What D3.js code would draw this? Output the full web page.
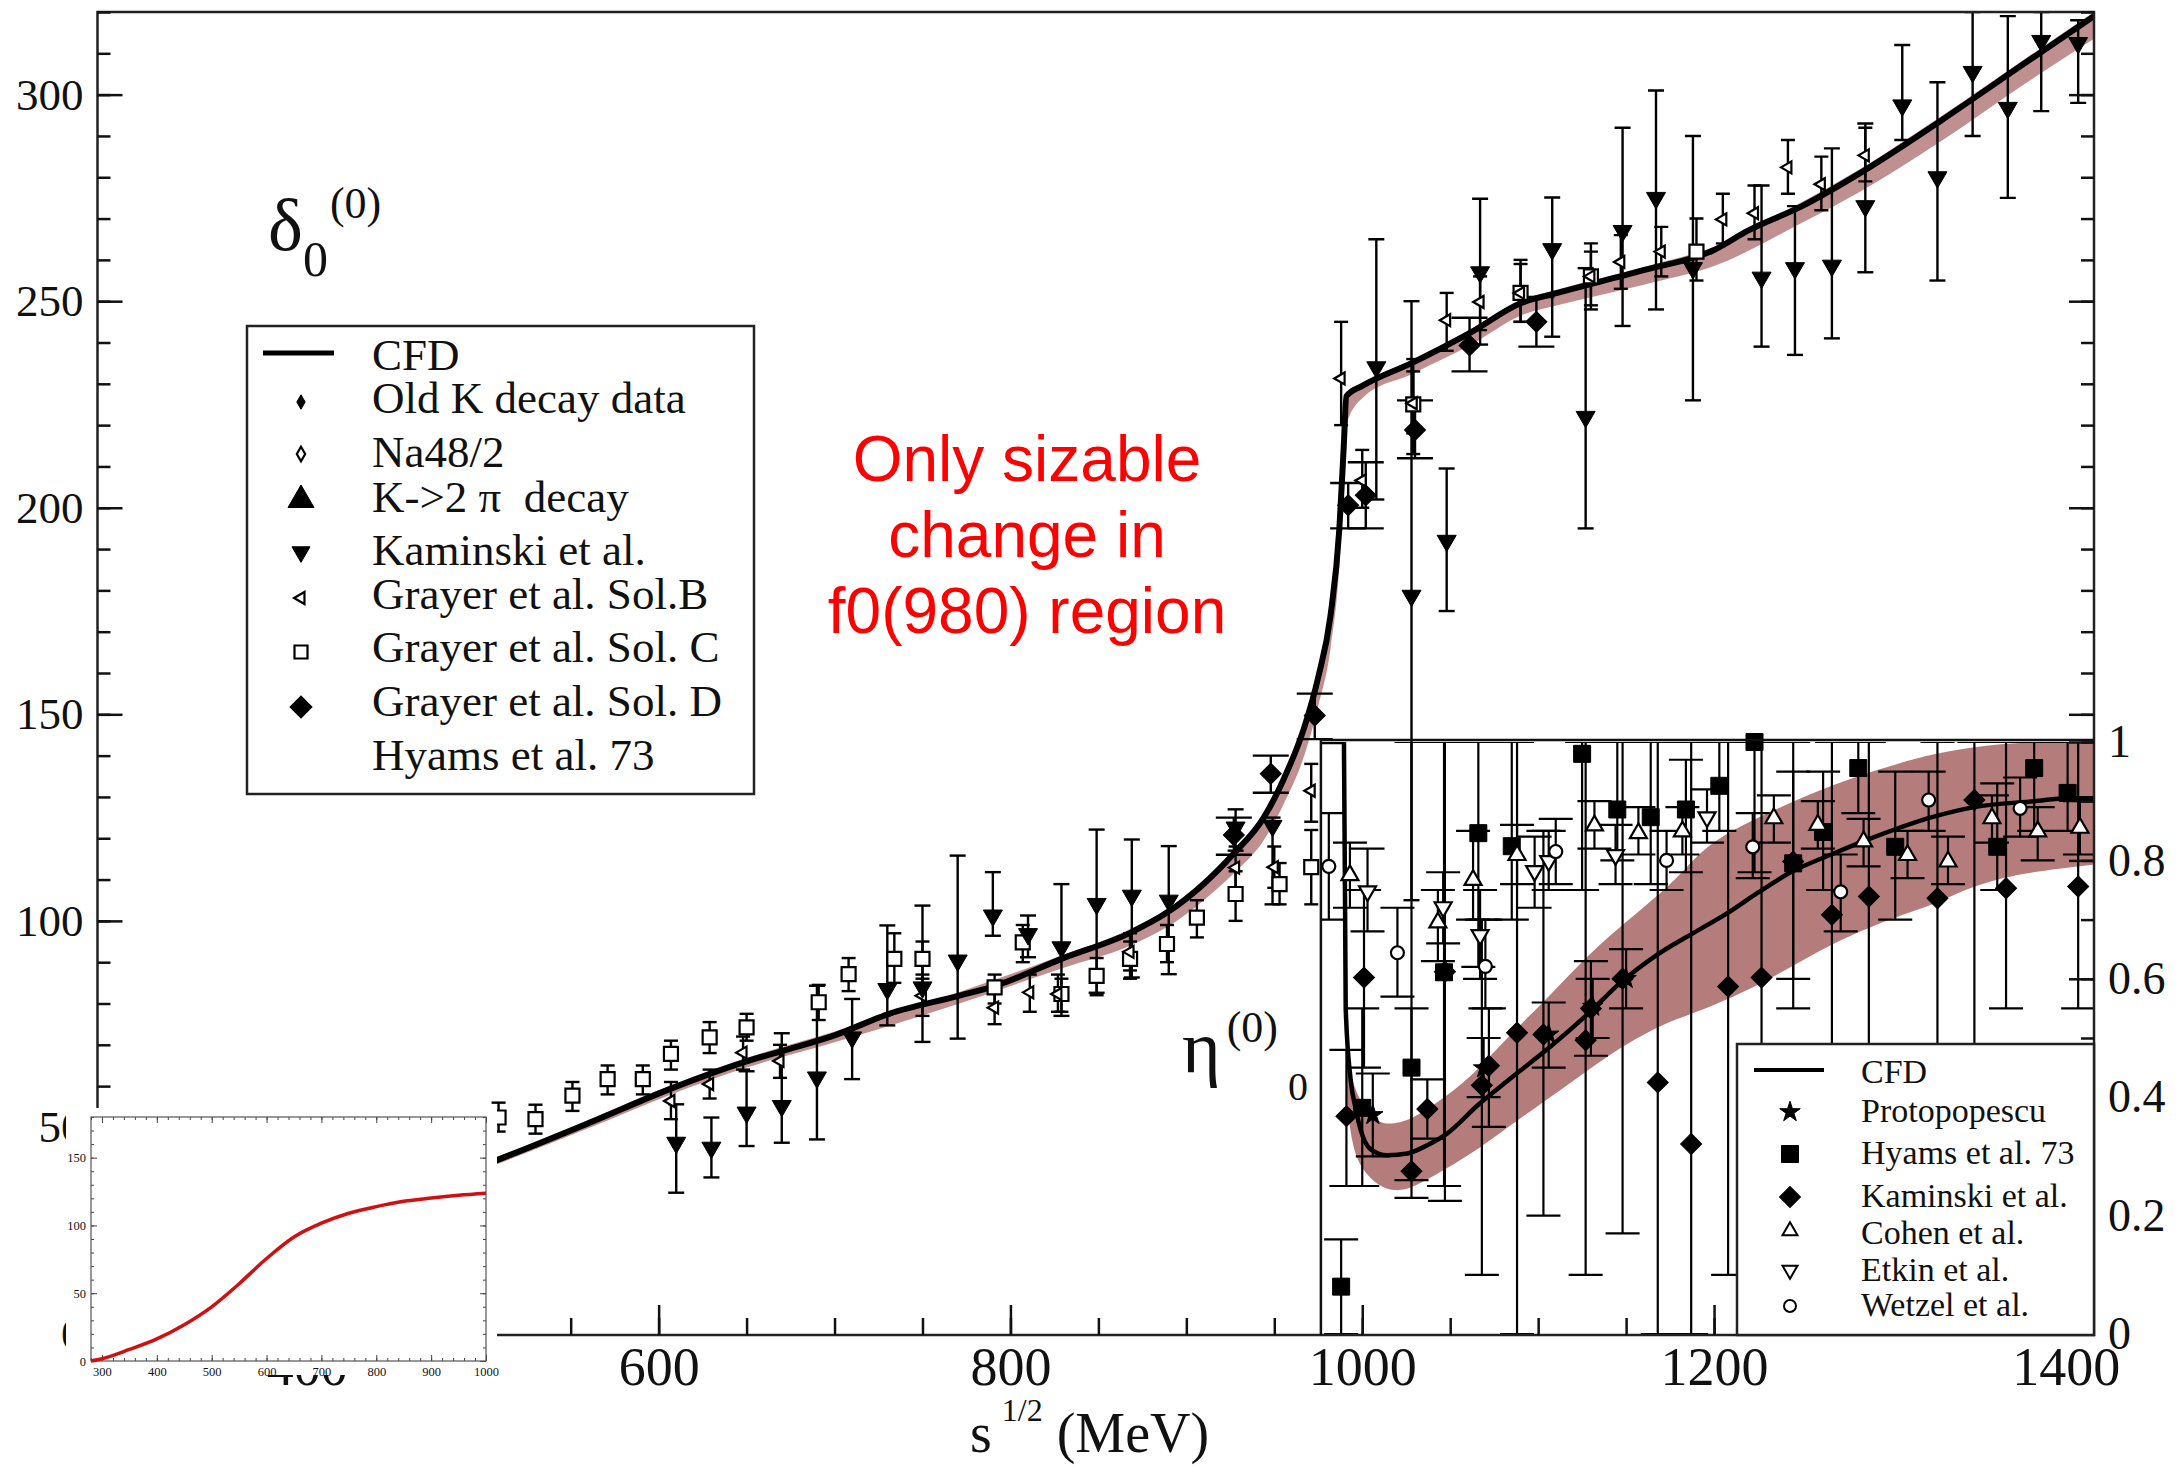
<!DOCTYPE html>
<meta charset="utf-8">
<html>
<head>
<script src="https://d3js.org/d3.v7.min.js"></script>
<style>
  body { margin: 0; background: #fff; }
  text { font-family: "Liberation Serif", "Times New Roman", serif; fill: #111; }
</style>
</head>
<body>
<div id="chart"></div>
<script>
// ---------- data (MeV, value, errLow, errHigh) ----------

// delta_0^(0) CFD curve and its band
const deltaCfd = [[480,37.6],[510,42.4],[560,51],[607,59.4],[650,66],[671,68.6],[700,72.3],[731,77.5],
  [771,81.9],[791,84.2],[829,90.8],[868,97.1],[889,102],[910,109],[927,116.3],[944,125],[955,134],
  [967,146.8],[975,159],[982,174],[987,195],[989.5,215],[991,227],[1000,229.5],[1029,235.2],[1062,242.5],
  [1090,249.5],[1111,252],[1160,257.5],[1200,262.4],[1219,267],[1250,273],[1283,281],[1330,294],
  [1378,308],[1416,319]];
const deltaBand = [[480,36.5,38.5],[510,41.4,43.2],[560,49.8,51.8],[607,58,60.2],[650,64.5,66.8],
  [700,70.6,73.2],[771,80,82.8],[829,88.5,91.6],[868,94,98],[889,98.5,102.8],[910,105,110],
  [927,111.5,117],[944,119.5,125.6],[955,128,134.6],[967,140,147.4],[975,152,159.6],[982,166,174.5],
  [987,186,195.6],[989.5,206,215.6],[991,220,227.6],[1000,226.5,230],[1029,232.5,236],[1062,239.5,243.2],
  [1090,246.5,250.2],[1111,249,252.8],[1160,254,258.3],[1200,258.5,263.2],[1250,269,274],
  [1283,276.5,282],[1330,289,295],[1378,303,309],[1416,313.5,320]];

const oldKDecay = [[286,2,0,4],[295,4,2.5,5.5],[310,6.5,5,8],[330,9,7,11],[350,11.5,9,14],[370,14,11.5,16.5],[390,17,14,20]];
const na48 = [[286,2.2,1.5,3],[295,3.6,3,4.3],[310,5,4.3,5.8],[330,7.2,6.4,8],[350,9.4,8.5,10.3],[370,11,10,12],[385,13.2,12,14.5]];
const k2piDecay = [[494,47,45,49]];

const kaminskiDelta = [[610,46.3,34.2,55.6],[630,45.1,37.9,52.4],[650,53.6,45.5,63.6],[670,55.2,46.3,72.8],
  [690,62.1,47.1,84.3],[710,71.8,61.7,81.1],[730,83.5,74.7,98.9],[750,83.9,70.7,103.7],
  [770,90.4,71.5,115.8],[790,101.3,96.4,111.8],[810,96.8,91.2,101.3],[829,93.6,77,108.9],
  [849,104.1,82.6,122.1],[869,106.1,86.3,119.7],[890,104.9,87.1,118.1],[928,122.6,117,127],
  [949,123,104,125],[1008,234,202,265],[1028,178.7,105,250],[1048,192,175,209.5],
  [1067,257,239.5,274.8],[1108,262.6,241.4,275.1],[1127,222,195,258],[1148,267,244,292],
  [1167,275,248,301],[1188,258,226,290],[1227,255.7,239,278],[1246,258,237,273],
  [1267,258.6,241,287],[1286,273,257,293],[1307,297.4,289,312],[1327,280,255,303],
  [1347,305.5,290,320],[1367,296.8,275,319],[1386,313,296,320],[1407,312.5,298,318]];

const grayerB = [[607,56.4,52,61],[629,60.5,57,64],[648,68.1,64,72],[669,66.1,62,70],[750,81.9,77,87],
  [791,79,75,83],[811,82.7,78,87],[827,82.3,78,87],[868,92.5,88,97],[928,112.9,108,118],[950,113,108,118],
  [971,131.5,124,138],[988,231.3,220,245],[1000,206.6,200,214],[1029,225.3,218,233],[1048,245.4,238,252],
  [1067,249.8,243,256],[1090,252,245,259],[1130,256,249,262],[1147,259.5,253,266],[1170,262,256,268],
  [1205,269.8,264,276],[1223,271.3,265,278],[1242,282.4,276,289],[1261,278.3,272,285],[1286,285.3,279,292]];

const grayerC = [[509,52.4,49,56],[530,52,48.5,55.5],[551,57.7,54,61],[571,61.7,58,65],[591,61.7,58,65],
  [607,67.8,64,71],[629,71.8,68,75.5],[650,74.2,71,77.5],[691,80.3,76,84.5],[708,87.1,83,91],
  [734,90.8,85,97],[750,90.8,86,95],[791,83.9,80,87],[807,94.8,90,99],[829,82.3,78,86],[849,86.7,82,91],
  [868,90.8,86,95],[889,94.4,90,99],[906,100.8,96,105],[928,106.5,100,112],[953,108.9,104,114],
  [971,113,104,122],[1029,225,213,236],[1090,252,245,260],[1130,256,248,264],[1190,262,255,270]];

const grayerD = [[927,120.8,116,125],[948,135.6,131,140],[973,149.7,144,155],[992,200.6,195,206],
  [1002,203,195,211],[1030,218.8,212,226],[1061,239.3,233,246],[1099,245,239,251]];

// eta_0^(0) CFD curve and its band
const etaCfd = [[976,1],[989.6,1],[990.6,0.55],[993.4,0.43],[996.3,0.38],[999.1,0.345],[1004.8,0.312],
  [1014.3,0.302],[1025.7,0.305],[1037,0.319],[1048.4,0.339],[1065.5,0.386],[1084.4,0.432],[1107.2,0.486],
  [1128,0.54],[1147,0.594],[1167.8,0.641],[1188.6,0.678],[1207.6,0.711],[1224.7,0.745],[1243.6,0.78],
  [1268.3,0.812],[1287.2,0.835],[1325,0.874],[1347.9,0.89],[1382,0.9],[1401,0.905],[1416,0.905]];
const etaBand = [[991,0.40,0.47],[994,0.32,0.43],[999,0.28,0.39],[1009,0.25,0.355],[1018,0.241,0.355],
  [1028,0.245,0.362],[1047,0.278,0.399],[1066,0.312,0.446],[1084,0.352,0.506],[1103,0.392,0.56],
  [1122,0.432,0.621],[1141,0.473,0.674],[1160,0.507,0.721],[1179,0.533,0.768],[1196,0.55,0.83],
  [1230,0.595,0.88],[1268,0.663,0.93],[1306,0.708,0.965],[1325,0.725,0.98],[1344,0.753,0.99],
  [1363,0.77,0.997],[1382,0.781,1.0],[1416,0.793,1.0]];

const protopopescu = [[1006,0.37,0.3,0.44],[1069,0.449,0.4,0.5],[1106,0.506,0.45,0.56],[1131,0.553,0.5,0.6],[1150,0.6,0.55,0.65]];
const hyamsEta = [[988,0.08,0.0,0.16],[1000,0.382,0.25,0.55],[1028,0.45,0.26,1.0],[1046.5,0.611,0.25,1.0],
  [1066,0.846,0.62,1.0],[1085,0.824,0.7,1.0],[1125,0.98,0.75,1.0],[1145,0.886,0.8,1.0],[1164,0.873,0.76,1.0],
  [1184,0.886,0.78,0.97],[1203,0.926,0.85,1.0],[1223,1.0,0.78,1.0],[1245,0.795,0.6,0.95],[1262,0.848,0.75,0.95],
  [1282,0.956,0.88,1.0],[1303,0.823,0.7,0.95],[1361,0.823,0.75,0.93],[1382,0.956,0.85,1.0],[1401,0.914,0.85,1.0]];
const kaminskiEta = [[991,0.368,0.25,0.48],[1001,0.602,0.45,0.75],[1028,0.275,0.23,0.55],[1037,0.38,0.33,0.43],
  [1047,0.612,0.225,1.0],[1068,0.42,0.1,0.7],[1072,0.453,0.35,0.55],[1088,0.509,0.0,1.0],[1103,0.506,0.2,0.85],
  [1127,0.496,0.1,1.0],[1130,0.55,0.47,0.63],[1148,0.6,0.17,1.0],[1168,0.425,0.0,1.0],[1187,0.321,0.0,1.0],
  [1208,0.587,0.1,1.0],[1227,0.602,0.3,1.0],[1245,0.798,0.55,1.0],[1267,0.708,0.2,1.0],[1288,0.739,0.45,1.0],
  [1327,0.736,0.3,1.0],[1348,0.902,0.22,1.0],[1366,0.753,0.55,1.0],[1407,0.756,0.55,1.0]];
const cohen = [[993,0.775,0.72,0.83],[1043,0.695,0.63,0.75],[1063,0.767,0.7,0.85],[1088,0.809,0.76,0.86],
  [1132,0.859,0.82,0.9],[1157,0.846,0.81,0.89],[1182,0.849,0.81,0.89],[1234,0.871,0.83,0.91],[1259,0.86,0.82,0.9],
  [1285,0.832,0.79,0.87],[1310,0.809,0.77,0.85],[1333,0.798,0.76,0.84],[1358,0.871,0.83,0.91],[1384,0.849,0.8,0.89],
  [1408,0.855,0.81,0.9]];
const etkin = [[1003,0.748,0.68,0.82],[1046,0.721,0.66,0.78],[1067,0.674,0.6,0.75],[1098,0.782,0.72,0.84],
  [1106,0.799,0.75,0.85],[1144,0.809,0.76,0.86],[1196,0.873,0.83,0.92]];
const wetzel = [[981,0.79,0.7,0.88],[1020,0.644,0.57,0.72],[1070,0.621,0.55,0.7],[1110,0.815,0.76,0.87],
  [1173,0.8,0.75,0.85],[1222,0.823,0.77,0.88],[1272,0.747,0.68,0.81],[1322,0.902,0.85,0.95],[1374,0.888,0.84,0.94]];

// small inset: red curve
const insetX = [280,300,350,400,450,500,550,600,650,700,750,800,850,900,950,1000];
const insetY = [0,1.7,8.5,16.3,26.8,40,57,75.6,91.5,101.7,109,113.9,117.8,120.2,122.2,123.7];

// tick labels
const xMajor = [400,600,800,1000,1200,1400];
const yMajor = [0,50,100,150,200,250,300];
const etaMajor = [0,0.2,0.4,0.6,0.8,1];
const insetXMajor = [300,400,500,600,700,800,900,1000];
const insetYMajor = [0,50,100,150];

// ---------- drawing ----------
const W = 2177, H = 1467;
const L = 97.5, R = 2094, T = 12, B = 1335;

const svg = d3.select("#chart").append("svg")
  .attr("width", W).attr("height", H)
  .style("background", "#fff");

const x = d3.scaleLinear().domain([281, 1416]).range([L, R]);
const y = d3.scaleLinear().domain([0, 320]).range([1334, T]);
const yEta = d3.scaleLinear().domain([0, 1]).range([1334, 742]);
const etaLeft = x(976.5);

const defs = svg.append("defs");
defs.append("clipPath").attr("id", "clipMain").append("rect")
  .attr("x", L).attr("y", T).attr("width", R - L).attr("height", B - T);
defs.append("clipPath").attr("id", "clipEta").append("rect")
  .attr("x", etaLeft).attr("y", yEta(1)).attr("width", R - etaLeft).attr("height", yEta(0) - yEta(1));

// marker shapes: s is the rough width in pixels
function sym(type, s) {
  const m = {
    square: [d3.symbolSquare, 1, 0], diamond: [d3.symbolDiamond, 0.5, 0], rhomb: [d3.symbolSquare, 0.5, 45],
    circle: [d3.symbolCircle, 0.785, 0], triUp: [d3.symbolTriangle, 0.433, 0],
    triDown: [d3.symbolTriangle, 0.433, 180], triLeft: [d3.symbolTriangle, 0.433, -90], star: [d3.symbolStar, 0.4, 0]
  }[type];
  return { path: d3.symbol().type(m[0]).size(m[1] * s * s)(), rot: m[2] };
}

function errBars(g, data, xs, ys, cap, sw) {
  const e = g.append("g").attr("stroke", "#000").attr("stroke-width", sw);
  const sel = e.selectAll(null).data(data).enter().append("g");
  sel.append("line").attr("x1", d => xs(d[0])).attr("x2", d => xs(d[0]))
    .attr("y1", d => ys(d[2])).attr("y2", d => ys(d[3]));
  sel.append("line").attr("x1", d => xs(d[0]) - cap / 2).attr("x2", d => xs(d[0]) + cap / 2)
    .attr("y1", d => ys(d[2])).attr("y2", d => ys(d[2]));
  sel.append("line").attr("x1", d => xs(d[0]) - cap / 2).attr("x2", d => xs(d[0]) + cap / 2)
    .attr("y1", d => ys(d[3])).attr("y2", d => ys(d[3]));
}

function marks(g, data, xs, ys, type, s, open) {
  const sp = sym(type, s);
  g.selectAll(null).data(data).enter().append("path")
    .attr("d", sp.path)
    .attr("transform", d => `translate(${xs(d[0])},${ys(d[1])}) rotate(${sp.rot})`)
    .attr("fill", open ? "#fff" : "#000")
    .attr("stroke", "#000").attr("stroke-width", open ? 2.2 : 1);
}

// ---- delta panel ----
const gMain = svg.append("g").attr("clip-path", "url(#clipMain)");
gMain.append("path").datum(deltaBand)
  .attr("d", d3.area().x(d => x(d[0])).y0(d => y(d[1])).y1(d => y(d[2])).curve(d3.curveMonotoneX))
  .attr("fill", "#c09090");

const deltaSeries = [
  { data: oldKDecay, type: "diamond", s: 10, open: false, cap: 8 },
  { data: na48, type: "diamond", s: 10, open: true, cap: 8 },
  { data: k2piDecay, type: "triUp", s: 20, open: false, cap: 10 },
  { data: grayerC, type: "square", s: 14, open: true, cap: 14 },
  { data: grayerB, type: "triLeft", s: 12, open: true, cap: 14 },
  { data: kaminskiDelta, type: "triDown", s: 19, open: false, cap: 16 },
  { data: grayerD, type: "rhomb", s: 21, open: false, cap: 36 }
];
deltaSeries.forEach(sr => errBars(gMain, sr.data, x, y, sr.cap, 2.4));
gMain.append("path").datum(deltaCfd)
  .attr("d", d3.line().x(d => x(d[0])).y(d => y(d[1])).curve(d3.curveMonotoneX))
  .attr("fill", "none").attr("stroke", "#000").attr("stroke-width", 6);
deltaSeries.forEach(sr => marks(gMain, sr.data, x, y, sr.type, sr.s, sr.open));

// ---- eta panel ----
const gEta = svg.append("g").attr("clip-path", "url(#clipEta)");
gEta.append("path").datum(etaBand)
  .attr("d", d3.area().x(d => x(d[0])).y0(d => yEta(d[1])).y1(d => yEta(d[2])).curve(d3.curveBasis))
  .attr("fill", "#b47d7b");

const etaSeries = [
  { data: kaminskiEta, type: "rhomb", s: 21, open: false },
  { data: hyamsEta, type: "square", s: 17, open: false },
  { data: protopopescu, type: "star", s: 18, open: false },
  { data: cohen, type: "triUp", s: 17, open: true },
  { data: etkin, type: "triDown", s: 17, open: true },
  { data: wetzel, type: "circle", s: 13, open: true }
];
etaSeries.forEach(sr => errBars(gEta, sr.data, x, yEta, 34, 2.2));
gEta.append("path").datum(etaCfd)
  .attr("d", d3.line().x(d => x(d[0])).y(d => yEta(d[1])).curve(d3.curveMonotoneX))
  .attr("fill", "none").attr("stroke", "#000").attr("stroke-width", 4.5);
etaSeries.forEach(sr => marks(svg, sr.data, x, yEta, sr.type, sr.s, sr.open));

// ---- frames ----
svg.append("rect").attr("x", L).attr("y", T).attr("width", R - L).attr("height", B - T)
  .attr("fill", "none").attr("stroke", "#222").attr("stroke-width", 2.5);
svg.append("path").attr("d", `M${etaLeft},${B}V${yEta(1) - 2}H${R}`)
  .attr("fill", "none").attr("stroke", "#111").attr("stroke-width", 2.5);

// ---- axes ----
function styleAxis(g, fs) {
  g.select(".domain").remove();
  g.selectAll(".tick line").attr("stroke", "#111").attr("stroke-width", 2.5);
  g.selectAll(".tick text").style("font-size", fs + "px").attr("fill", "#111");
}
svg.append("g").attr("transform", `translate(0,${B})`)
  .call(d3.axisBottom(x).tickValues(d3.range(300, 1416, 50)).tickSize(-17).tickFormat(""))
  .call(g => styleAxis(g, 10));
svg.append("g").attr("transform", `translate(0,${B})`)
  .call(d3.axisBottom(x).tickValues(xMajor).tickSize(-30).tickPadding(12).tickFormat(d3.format("d")))
  .call(g => styleAxis(g, 54));
svg.append("g").attr("transform", `translate(${L},0)`)
  .call(d3.axisLeft(y).tickValues(d3.range(0, 321, 10)).tickSize(-13).tickFormat(""))
  .call(g => styleAxis(g, 10));
svg.append("g").attr("transform", `translate(${L},0)`)
  .call(d3.axisLeft(y).tickValues(yMajor).tickSize(-25).tickPadding(14).tickFormat(d3.format("d")))
  .call(g => styleAxis(g, 45));
svg.append("g").attr("transform", `translate(${R},0)`)
  .call(d3.axisRight(y).tickValues(d3.range(150, 321, 10)).tickSize(-13).tickFormat(""))
  .call(g => styleAxis(g, 10));
svg.append("g").attr("transform", `translate(${R},0)`)
  .call(d3.axisRight(y).tickValues([150, 200, 250, 300]).tickSize(-25).tickFormat(""))
  .call(g => styleAxis(g, 10));
svg.append("g").attr("transform", `translate(${R},0)`)
  .call(d3.axisRight(yEta).tickValues(d3.range(0, 1.01, 0.1)).tickSize(-13).tickFormat(""))
  .call(g => styleAxis(g, 10));
svg.append("g").attr("transform", `translate(${R},0)`)
  .call(d3.axisRight(yEta).tickValues(etaMajor).tickSize(-25).tickPadding(14)
    .tickFormat(d => (d === 0 || d === 1) ? d3.format("d")(d) : d3.format(".1f")(d)))
  .call(g => styleAxis(g, 46));

// axis title and panel symbols
const xt = svg.append("text").attr("x", 970).attr("y", 1452).style("font-size", "56px");
xt.append("tspan").text("s");
xt.append("tspan").attr("dx", 10).attr("dy", -31).style("font-size", "32px").text("1/2");
xt.append("tspan").attr("dx", 14).attr("dy", 31).text("(MeV)");

const dl = svg.append("text").attr("x", 268).attr("y", 250).style("font-size", "74px");
dl.append("tspan").text("δ");
dl.append("tspan").attr("dy", 26).style("font-size", "50px").text("0");
dl.append("tspan").attr("dy", -58).attr("dx", 2).style("font-size", "44px").text("(0)");

const el = svg.append("text").attr("x", 1182).attr("y", 1072).style("font-size", "74px");
el.append("tspan").text("η");
el.append("tspan").attr("dy", -30).attr("dx", 6).style("font-size", "44px").text("(0)");
svg.append("text").attr("x", 1288).attr("y", 1100).style("font-size", "40px").text("0");

// ---- left legend ----
const lg = svg.append("g");
lg.append("rect").attr("x", 247).attr("y", 326).attr("width", 507).attr("height", 468)
  .attr("fill", "#fff").attr("stroke", "#222").attr("stroke-width", 2.5);
lg.append("line").attr("x1", 263).attr("x2", 334).attr("y1", 353).attr("y2", 353)
  .attr("stroke", "#000").attr("stroke-width", 5);
const leftRows = [
  { t: "CFD", ty: 370 },
  { t: "Old K decay data", ty: 413, my: 402, type: "diamond", s: 11, open: false },
  { t: "Na48/2", ty: 467, my: 454, type: "diamond", s: 11, open: true },
  { t: "K->2 π  decay", ty: 512, my: 500, type: "triUp", s: 26, open: false },
  { t: "Kaminski et al.", ty: 565, my: 552, type: "triDown", s: 18, open: false },
  { t: "Grayer et al. Sol.B", ty: 609, my: 598, type: "triLeft", s: 12, open: true },
  { t: "Grayer et al. Sol. C", ty: 662, my: 652, type: "square", s: 13, open: true },
  { t: "Grayer et al. Sol. D", ty: 716, my: 707, type: "rhomb", s: 22, open: false },
  { t: "Hyams et al. 73", ty: 770 }
];
leftRows.forEach(r => {
  lg.append("text").attr("x", 372).attr("y", r.ty).style("font-size", "45px")
    .style("white-space", "pre").text(r.t);
  if (r.type) {
    const sp = sym(r.type, r.s);
    lg.append("path").attr("d", sp.path).attr("transform", `translate(301,${r.my}) rotate(${sp.rot})`)
      .attr("fill", r.open ? "#fff" : "#000").attr("stroke", "#000").attr("stroke-width", r.open ? 2.2 : 1);
  }
});

// ---- right legend ----
const rg = svg.append("g");
rg.append("rect").attr("x", 1737).attr("y", 1044).attr("width", R - 1737).attr("height", B - 1044)
  .attr("fill", "#fff").attr("stroke", "#222").attr("stroke-width", 2.5);
rg.append("line").attr("x1", 1754).attr("x2", 1824).attr("y1", 1070).attr("y2", 1070)
  .attr("stroke", "#000").attr("stroke-width", 4);
const rightRows = [
  { t: "CFD", ty: 1083 },
  { t: "Protopopescu", ty: 1122, my: 1112, type: "star", s: 18, open: false },
  { t: "Hyams et al. 73", ty: 1164, my: 1154, type: "square", s: 17, open: false },
  { t: "Kaminski et al.", ty: 1207, my: 1197, type: "rhomb", s: 21, open: false },
  { t: "Cohen et al.", ty: 1244, my: 1231, type: "triUp", s: 15, open: true },
  { t: "Etkin et al.", ty: 1281, my: 1270, type: "triDown", s: 15, open: true },
  { t: "Wetzel et al.", ty: 1316, my: 1306, type: "circle", s: 12, open: true }
];
rightRows.forEach(r => {
  rg.append("text").attr("x", 1861).attr("y", r.ty).style("font-size", "34px").text(r.t);
  if (r.type) {
    const sp = sym(r.type, r.s);
    rg.append("path").attr("d", sp.path).attr("transform", `translate(1790,${r.my}) rotate(${sp.rot})`)
      .attr("fill", r.open ? "#fff" : "#000").attr("stroke", "#000").attr("stroke-width", r.open ? 2 : 1);
  }
});

// ---- red annotation ----
const ann = svg.append("text").attr("text-anchor", "middle")
  .style("font-family", "'Liberation Sans', Arial, sans-serif").style("font-size", "64px");
["Only sizable", "change in", "f0(980) region"].forEach((s, i) => {
  ann.append("tspan").attr("x", 1027).attr("y", 481 + i * 76).attr("fill", "#f00").text(s);
});

// ---- small inset with red curve ----
const xi = d3.scaleLinear().domain([280, 1000]).range([91, 486]);
const yi = d3.scaleLinear().domain([0, 180]).range([1361, 1117]);
const ig = svg.append("g");
ig.append("rect").attr("x", 66).attr("y", 1108).attr("width", 431).attr("height", 267).attr("fill", "#fff");
function styleSmall(g, fs) {
  g.select(".domain").remove();
  g.selectAll(".tick line").attr("stroke", "#444").attr("stroke-width", 1);
  g.selectAll(".tick text").style("font-size", fs + "px").attr("fill", "#222");
}
const xiMinor = d3.range(280, 1001, 20), yiMinor = d3.range(0, 181, 10);
ig.append("g").attr("transform", "translate(0,1361)")
  .call(d3.axisBottom(xi).tickValues(xiMinor).tickSize(-3).tickFormat("")).call(g => styleSmall(g, 1));
ig.append("g").attr("transform", "translate(0,1361)")
  .call(d3.axisBottom(xi).tickValues(insetXMajor).tickSize(-6).tickPadding(6).tickFormat(d3.format("d")))
  .call(g => styleSmall(g, 12.5));
ig.append("g").attr("transform", "translate(0,1117)")
  .call(d3.axisTop(xi).tickValues(xiMinor).tickSize(-3).tickFormat("")).call(g => styleSmall(g, 1));
ig.append("g").attr("transform", "translate(0,1117)")
  .call(d3.axisTop(xi).tickValues(insetXMajor).tickSize(-6).tickFormat("")).call(g => styleSmall(g, 1));
ig.append("g").attr("transform", "translate(91,0)")
  .call(d3.axisLeft(yi).tickValues(yiMinor).tickSize(-3).tickFormat("")).call(g => styleSmall(g, 1));
ig.append("g").attr("transform", "translate(91,0)")
  .call(d3.axisLeft(yi).tickValues(insetYMajor).tickSize(-6).tickPadding(5).tickFormat(d3.format("d")))
  .call(g => styleSmall(g, 12.5));
ig.append("g").attr("transform", "translate(486,0)")
  .call(d3.axisRight(yi).tickValues(yiMinor).tickSize(-3).tickFormat("")).call(g => styleSmall(g, 1));
ig.append("g").attr("transform", "translate(486,0)")
  .call(d3.axisRight(yi).tickValues(insetYMajor).tickSize(-6).tickFormat("")).call(g => styleSmall(g, 1));
ig.append("rect").attr("x", 91).attr("y", 1117).attr("width", 395).attr("height", 244)
  .attr("fill", "none").attr("stroke", "#555").attr("stroke-width", 1.2);
ig.append("path").datum(d3.zip(insetX, insetY))
  .attr("d", d3.line().x(d => xi(d[0])).y(d => yi(d[1])).curve(d3.curveMonotoneX))
  .attr("fill", "none").attr("stroke", "#d01010").attr("stroke-width", 3.5);
</script>
</body>
</html>
